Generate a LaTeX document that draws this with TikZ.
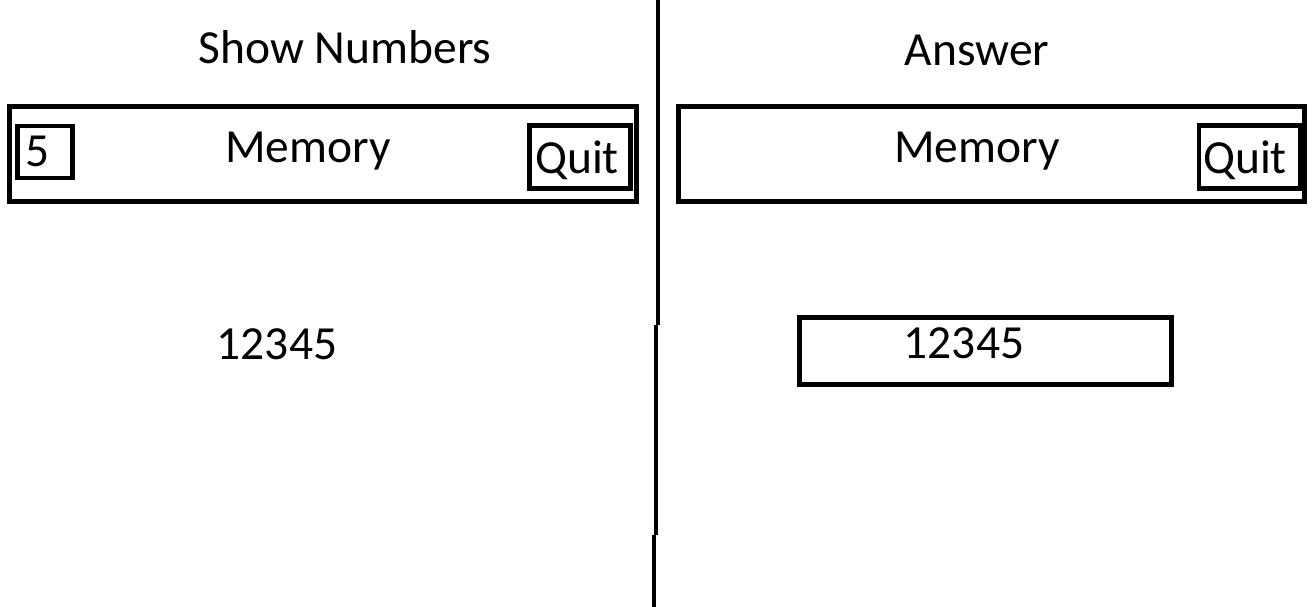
\documentclass[tikz,border=0pt]{standalone}
\usepackage{fontspec}
\setmainfont{Carlito}
\begin{document}
\begin{tikzpicture}[x=1pt,y=-1pt,
  lbl/.style={font=\fontsize{47.5}{52}\selectfont, inner sep=0pt, anchor=base},
  frame/.style={draw, line width=4.5pt, inner sep=0pt, rectangle},
  divider/.style={line width=4pt}]
\useasboundingbox (0,0) rectangle (1312,607);
% titles
\node[lbl] (t1) at (345,64) {Show Numbers};
\node[lbl] (t2) at (977,66) {Answer};
% left header bar
\node[frame, minimum width=627pt, minimum height=95pt] (barL) at (323,154) {};
\node[frame, minimum width=55pt, minimum height=52pt] (five) at (45,152) {};
\node[lbl] at (38,167) {5};
\node[lbl] (memL) at (308,162) {Memory};
\node[frame, minimum width=101pt, minimum height=63pt] (quitL) at (580,157) {};
\node[lbl] at (577,174) {Quit};
% right header bar
\node[frame, minimum width=626pt, minimum height=95pt] (barR) at (991.5,154) {};
\node[lbl] (memR) at (977,162) {Memory};
\node[frame, minimum width=101pt, minimum height=63pt] (quitR) at (1249.5,157) {};
\node[lbl] at (1245,174) {Quit};
% numbers
\node[lbl] (numL) at (277,359) {12345};
\node[frame, minimum width=372pt, minimum height=67pt] (numbox) at (985.5,351) {};
\node[lbl] (numR) at (964,358) {12345};
% divider
\coordinate (d0) at (658,0);
\coordinate (d1) at (658,325);
\coordinate (d2) at (656,325);
\coordinate (d3) at (656,535);
\coordinate (d4) at (654,535);
\coordinate (d5) at (654,607);
\draw[divider] (d0) -- (d1);
\draw[divider] (d2) -- (d3);
\draw[divider] (d4) -- (d5);
\end{tikzpicture}
\end{document}
